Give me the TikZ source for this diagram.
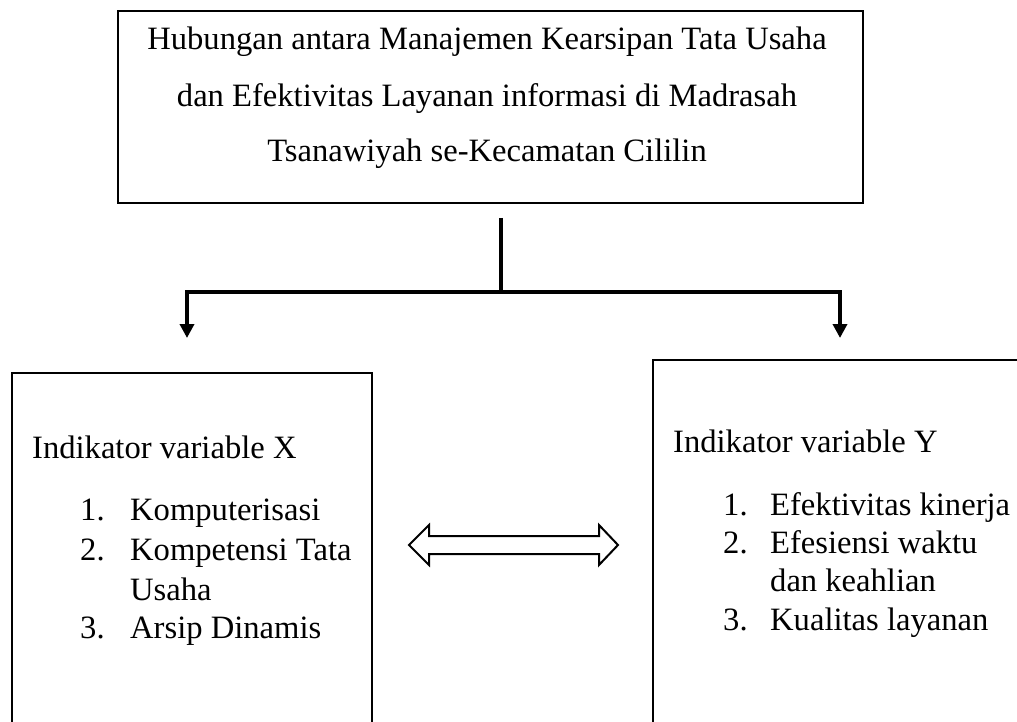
\documentclass[tikz,border=0pt]{standalone}
\usepackage{fontspec}
\setmainfont{Liberation Serif}
\usetikzlibrary{arrows.meta}
\begin{document}
\begin{tikzpicture}[x=1pt,y=-1pt,
  box/.style={draw=black,line width=1.8pt,inner sep=0pt},
  conn/.style={line width=3.6pt},
  arr/.style={conn,-{Triangle[length=14pt,width=14pt]}},
  txt/.style={anchor=base west,inner sep=0pt,font=\fontsize{32.6}{40}\selectfont},
  ctxt/.style={anchor=base,inner sep=0pt,font=\fontsize{32.6}{40}\selectfont},
  dbl/.style={draw=black,line width=2pt,line join=miter},
]
\useasboundingbox (0,0) rectangle (1017,722);
\clip (0,0) rectangle (1017,722);
% top box
\node[box,anchor=north west,minimum width=745pt,minimum height=192pt] (top) at (117,10) {};
\node[ctxt] (t1) at (487,50) {Hubungan antara Manajemen Kearsipan Tata Usaha};
\node[ctxt] (t2) at (487,107) {dan Efektivitas Layanan informasi di Madrasah};
\node[ctxt] (t3) at (487,162) {Tsanawiyah se-Kecamatan Cililin};
% lower boxes
\node[box,anchor=north west,minimum width=360pt,minimum height=420pt] (bx) at (11,372) {};
\node[box,anchor=north west,minimum width=420pt,minimum height=420pt] (by) at (652,359) {};
% left box text
\node[txt] (xh) at (32,458) {Indikator variable X};
\node[txt] (xn1) at (80,520) {1.};
\node[txt] (x1) at (130,520) {Komputerisasi};
\node[txt] (xn2) at (80,560) {2.};
\node[txt] (x2) at (130,560) {Kompetensi Tata};
\node[txt] (x2b) at (130,600) {Usaha};
\node[txt] (xn3) at (80,638) {3.};
\node[txt] (x3) at (130,638) {Arsip Dinamis};
% right box text
\node[txt] (yh) at (673,452) {Indikator variable Y};
\node[txt] (yn1) at (723,515) {1.};
\node[txt] (y1) at (770,515) {Efektivitas kinerja};
\node[txt] (yn2) at (723,553) {2.};
\node[txt] (y2) at (770,553) {Efesiensi waktu};
\node[txt] (y2b) at (770,591) {dan keahlian};
\node[txt] (yn3) at (723,630) {3.};
\node[txt] (y3) at (770,630) {Kualitas layanan};
% connectors
\coordinate (s) at (501,218);
\coordinate (j) at (501,292);
\coordinate (tl) at (187,338);
\coordinate (tr) at (840,338);
\draw[conn] (s) -- (j);
\draw[arr] (j) -| (tl);
\draw[arr] (j) -| (tr);
% double arrow
\draw[dbl] (409,545) -- (429,525) -- (429,536) -- (599,536) -- (599,525) -- (618,545) -- (599,565) -- (599,554) -- (429,554) -- (429,565) -- cycle;
\end{tikzpicture}
\end{document}
